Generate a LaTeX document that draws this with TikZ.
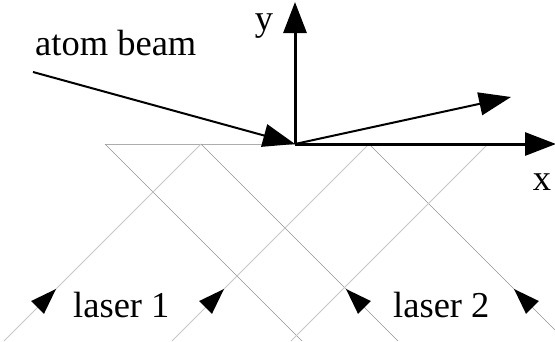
\documentclass[tikz,border=0pt]{standalone}
\usepackage{fontspec}
\setmainfont{Liberation Serif}
\newfontfamily\labelfont{Liberation Serif}
\usetikzlibrary{arrows.meta}
\begin{document}
\begin{tikzpicture}[x=1pt,y=-1pt,
  axisline/.style={line width=3pt, -{Triangle[length=31pt,width=23pt]}},
  beamline/.style={line width=2pt, -{Triangle[length=32pt,width=23pt]}},
  upray/.style={draw=black!22, line width=0.8pt},
  downray/.style={draw=black!42, line width=0.5pt},
  surfaceline/.style={draw=black!32, line width=0.8pt},
  laserhead/.style={fill=black},
  lbl/.style={font=\labelfont\fontsize{36.5}{40}\selectfont, inner sep=0pt}]
\useasboundingbox (0,0) rectangle (555,341);
% peaks of the standing wave pattern
\coordinate (P1) at (105,144);
\coordinate (P2) at (201,144);
\coordinate (P3) at (369,144);
\coordinate (P4) at (488,144);
% bottom ends
\coordinate (B1) at (302,341);
\coordinate (B2) at (4,341);
\coordinate (B3) at (398,341);
\coordinate (B4) at (172,341);
\coordinate (B5) at (555,330);
\coordinate (B6) at (291,341);
% origin and axes ends
\coordinate (O) at (295,144);
\coordinate (X) at (556,144);
\coordinate (Y) at (295,2);
\coordinate (S) at (33,72);
\coordinate (R) at (511,97);
% laser rays
\draw[surfaceline] (P1) -- (P4);
\draw[downray] (P1) -- (B1);
\draw[downray] (P2) -- (B3);
\draw[downray] (P3) -- (B5);
\draw[upray] (B2) -- (P2);
\draw[upray] (B4) -- (P3);
\draw[upray] (B6) -- (P4);
% laser arrowheads
\fill[laserhead] (56,289) -- (31.2,301.0) -- (44.0,313.8) -- cycle;
\fill[laserhead] (224,289) -- (199.2,301.0) -- (212.0,313.8) -- cycle;
\fill[laserhead] (346,289) -- (370.8,301.0) -- (358.0,313.8) -- cycle;
\fill[laserhead] (514,289) -- (538.8,301.0) -- (526.0,313.8) -- cycle;
% axes and beams
\draw[axisline] (O) -- (X);
\draw[axisline] (O) -- (Y);
\draw[beamline] (S) -- (O);
\draw[beamline] (O) -- (R);
% labels
\node[lbl, anchor=base west] (atom) at (35,55) {atom beam};
\node[lbl, anchor=base] (ylab) at (264,30) {y};
\node[lbl, anchor=base] (xlab) at (542,190) {x};
\node[lbl, anchor=base west] (las1) at (73,317) {laser 1};
\node[lbl, anchor=base west] (las2) at (393,317) {laser 2};
\end{tikzpicture}
\end{document}
